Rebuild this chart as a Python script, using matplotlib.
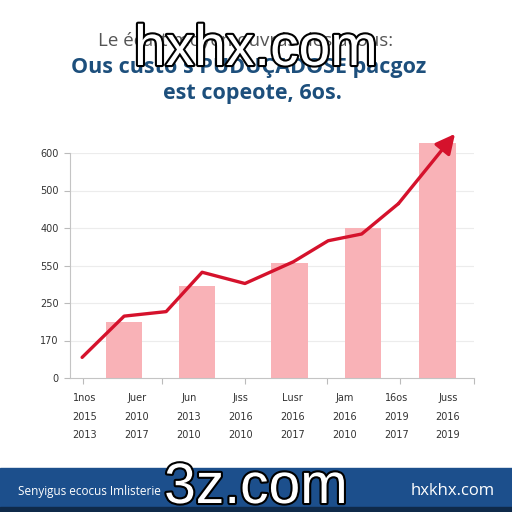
import numpy as np
import matplotlib.pyplot as plt
import matplotlib.patheffects as pe
from matplotlib.patches import Rectangle

# データ
bar_x = [1.33, 3.14, 5.43, 7.25, 9.10]
bar_vals = [150, 246, 306, 401, 628]

line_x = [0.30, 1.34, 2.38, 3.27, 4.33, 5.53, 6.39, 7.22, 8.13, 9.53]
line_vals = [55, 165, 177, 282, 252, 310, 366, 384, 465, 651]

ytick_pos = [0, 100, 200, 300, 400, 500, 600]
ytick_labels = ["0", "170", "250", "550", "400", "500", "600"]
xtick_pos = [0.33, 2.28, 4.33, 6.36, 8.17, 10.0]

xlab_row1 = ["1nos", "Juer", "Jun", "Jıss", "Lusr", "Jam", "16os", "Juss"]
xlab_row2 = ["2015", "2010", "2013", "2016", "2016", "2016", "2019", "2016"]
xlab_row3 = ["2013", "2017", "2010", "2010", "2017", "2010", "2017", "2019"]

title1 = "Le écart moyen ouvrás des acous:"
title2 = "Ous custo s PUDUÇADOSE pacgoz"
title3 = "est copeote, 6os."
footer_left = "Senyigus ecocus Imlisterie"
footer_right = "hxkhx.com"

red = "#d5122c"
pink = "#f9b2b7"
navy = "#1d4f7c"

fig = plt.figure(figsize=(5.12, 5.12), dpi=100)
ax = fig.add_axes([70 / 512, 1 - 378 / 512, 404 / 512, 225 / 512])

ax.bar(bar_x, bar_vals, width=0.9, color=pink, clip_on=False, zorder=2)
ax.plot(line_x[:-1], line_vals[:-1], color=red, lw=2.4, solid_capstyle="round",
        solid_joinstyle="round", clip_on=False, zorder=3)
ax.annotate("", xy=(line_x[-1], line_vals[-1]), xytext=(line_x[-2], line_vals[-2]),
            arrowprops=dict(arrowstyle="-|>,head_length=0.9,head_width=0.45",
                            color=red, lw=2.4, mutation_scale=13,
                            shrinkA=0, shrinkB=0),
            annotation_clip=False, zorder=4)

ax.set_xlim(0, 10)
ax.set_ylim(0, 600)
ax.set_yticks(ytick_pos)
ax.set_yticklabels(ytick_labels, fontsize=7, color="#333333")
ax.set_xticks(xtick_pos)
ax.set_xticklabels([])
ax.tick_params(axis="both", length=4, color="#bbbbbb", width=0.8, pad=4)
for v in ytick_pos[1:]:
    ax.axhline(v, color="#ececec", lw=0.8, zorder=0)
for s in ["top", "right"]:
    ax.spines[s].set_visible(False)
for s in ["left", "bottom"]:
    ax.spines[s].set_color("#c4c4c4")
    ax.spines[s].set_linewidth(0.8)

# x軸ラベル（3段）
lab_x = np.linspace(85, 448, 8) / 512
for i in range(8):
    fig.text(lab_x[i], 1 - 398 / 512, xlab_row1[i], ha="center", va="center", fontsize=7, color="#333333")
    fig.text(lab_x[i], 1 - 417 / 512, xlab_row2[i], ha="center", va="center", fontsize=7, color="#333333")
    fig.text(lab_x[i], 1 - 435 / 512, xlab_row3[i], ha="center", va="center", fontsize=7, color="#333333")

# タイトル
fig.text(0.48, 1 - 41 / 512, title1, ha="center", va="center", fontsize=13.5, color="#555555",
         family="Open Sans")
fig.text(0.485, 1 - 68 / 512, title2, ha="center", va="center", fontsize=15.5, color=navy,
         family="Open Sans", weight="bold")
fig.text(0.493, 1 - 93 / 512, title3, ha="center", va="center", fontsize=15.5, color=navy,
         family="Open Sans", weight="bold")

# フッター
fig.patches.append(Rectangle((0, 0), 1, 1 - 468 / 512, transform=fig.transFigure,
                             color="#1c4f8c", zorder=0))
fig.patches.append(Rectangle((0, 0), 1, 5 / 512, transform=fig.transFigure,
                             color="#0f2a4a", zorder=0))
fig.text(18 / 512, 1 - 492 / 512, footer_left, ha="left", va="center", fontsize=8.5,
         color="white", family="Open Sans")
fig.text(495 / 512, 1 - 491 / 512, footer_right, ha="right", va="center", fontsize=12,
         color="white", family="Open Sans")

# ウォーターマーク
wm = [pe.withStroke(linewidth=3, foreground="black")]
fig.text(0.5, 1 - 65 / 512, "hxhx.com", ha="center", va="baseline", fontsize=41,
         color="white", family="Liberation Sans", path_effects=wm, zorder=10)
fig.text(0.5, 1 - 503 / 512, "3z.com", ha="center", va="baseline", fontsize=41,
         color="white", family="Liberation Sans", path_effects=wm, zorder=10)

fig.savefig("out.png", dpi=100)
